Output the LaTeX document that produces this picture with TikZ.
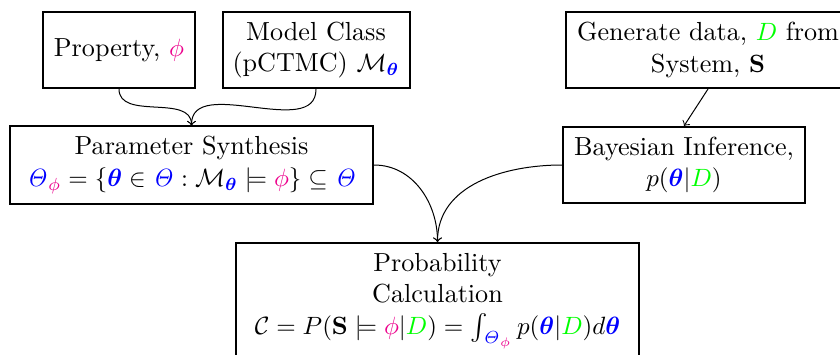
\documentclass[tikz,border=0pt]{standalone}
\usepackage{amsmath,amssymb,bm}
\definecolor{phicol}{RGB}{236,0,140}
\definecolor{dcol}{RGB}{0,255,0}
\definecolor{thcol}{RGB}{0,0,255}
\newcommand{\myphi}{{\color{phicol}\phi}}
\newcommand{\myD}{{\color{dcol}D}}
\newcommand{\myth}{{\color{thcol}\bm{\theta}}}
\newcommand{\myTh}{{\color{thcol}\mathit{\Theta}}}
\begin{document}
\begin{tikzpicture}[
  box/.style={draw, line width=0.8pt, align=center, inner sep=4pt, font=\fontsize{10.45}{12.6}\selectfont},
  conn/.style={->, line width=0.4pt}
]
\useasboundingbox (0,0) rectangle (336pt,-141.6pt);
\node[box, minimum width=60.8pt, minimum height=30.4pt] (prop) at (47.6pt,-20pt) {Property, $\myphi$};
\node[box, minimum width=74.4pt, minimum height=30.4pt] (model) at (126.4pt,-20pt) {Model Class\\(pCTMC) $\mathcal{M}_{\myth}$};
\node[box, minimum width=113.6pt, minimum height=30.4pt] (gen) at (283.2pt,-20pt) {Generate data, $\myD$ from\\System, $\mathbf{S}$};
\node[box, minimum width=145.2pt, minimum height=30.4pt] (param) at (76.6pt,-66pt) {Parameter Synthesis\\$\myTh_{\myphi}=\{\myth\in\myTh:\mathcal{M}_{\myth}\models\myphi\}\subseteq\myTh$};
\node[box, minimum width=96.8pt, minimum height=30.4pt] (bayes) at (273.6pt,-66pt) {Bayesian Inference,\\$p(\myth|\myD)$};
\node[box, minimum width=161.2pt, anchor=north] (prob) at (175pt,-96.8pt) {Probability\\Calculation\\$\mathcal{C}=P(\mathbf{S}\models\myphi|\myD)=\int_{\myTh_{\myphi}}p(\myth|\myD)d\myth$};
\draw[conn] (prop.south) to[out=-90,in=90] (param.north);
\draw[conn] (model.south) to[out=-90,in=90] (param.north);
\draw[conn] (gen.south) -- (bayes.north);
\draw[conn] (param.east) to[out=0,in=90] (prob.north);
\draw[conn] (bayes.west) to[out=180,in=90] (prob.north);
\end{tikzpicture}
\end{document}
